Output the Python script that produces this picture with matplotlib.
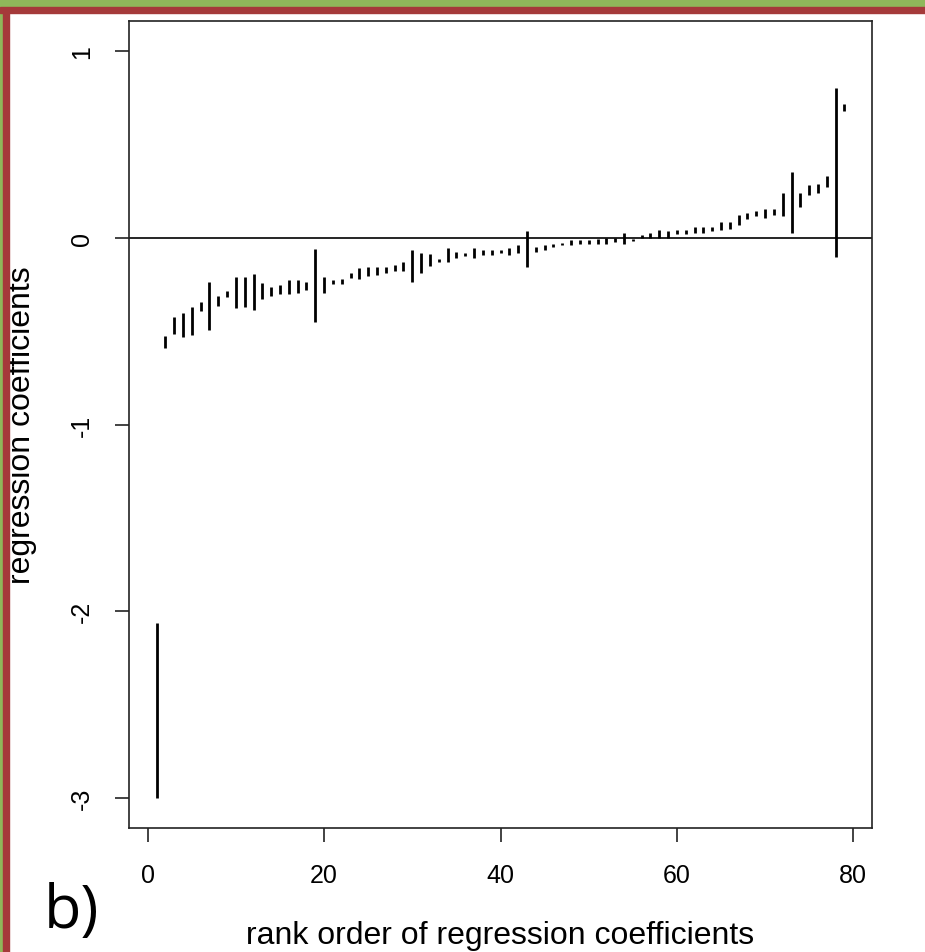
import matplotlib
matplotlib.use("Agg")
import matplotlib.pyplot as plt
from matplotlib.patches import Rectangle

plt.rcParams['font.family'] = ['Liberation Sans', 'DejaVu Sans']

# rank order 1..79, lower and upper ends of each interval
rank = list(range(1, 80))
lower = [-3.00, -0.59, -0.515, -0.533, -0.519, -0.394, -0.492, -0.367, -0.320, -0.378,
         -0.370, -0.385, -0.328, -0.313, -0.304, -0.304, -0.297, -0.279, -0.453, -0.295,
         -0.247, -0.247, -0.215, -0.220, -0.206, -0.199, -0.188, -0.176, -0.176, -0.238,
         -0.188, -0.154, -0.131, -0.131, -0.107, -0.098, -0.107, -0.090, -0.090, -0.082,
         -0.090, -0.082, -0.157, -0.075, -0.068, -0.050, -0.041, -0.041, -0.032, -0.032,
         -0.032, -0.032, -0.023, -0.032, -0.018, -0.002, -0.002, 0.000, 0.000, 0.018,
         0.018, 0.025, 0.027, 0.034, 0.043, 0.048, 0.066, 0.098, 0.117, 0.106,
         0.120, 0.117, 0.025, 0.165, 0.231, 0.240, 0.272, -0.104, 0.680]
upper = [-2.06, -0.525, -0.426, -0.403, -0.369, -0.344, -0.235, -0.313, -0.286, -0.213,
         -0.213, -0.197, -0.245, -0.263, -0.252, -0.229, -0.229, -0.238, -0.059, -0.213,
         -0.226, -0.220, -0.188, -0.163, -0.158, -0.158, -0.158, -0.145, -0.131, -0.064,
         -0.081, -0.086, -0.113, -0.055, -0.077, -0.081, -0.055, -0.064, -0.064, -0.064,
         -0.055, -0.041, 0.035, -0.050, -0.041, -0.032, -0.027, -0.014, -0.014, -0.014,
         -0.005, -0.002, -0.002, 0.027, -0.005, 0.012, 0.027, 0.043, 0.034, 0.043,
         0.043, 0.057, 0.057, 0.059, 0.084, 0.084, 0.120, 0.134, 0.141, 0.156,
         0.156, 0.240, 0.353, 0.240, 0.281, 0.290, 0.329, 0.804, 0.714]

x_ticks = [0, 20, 40, 60, 80]
y_ticks = [-3, -2, -1, 0, 1]

fig = plt.figure(figsize=(9.25, 9.53), dpi=100)
fig.patch.set_facecolor('white')

# picture frame: foliage strip at top, red border
fig.patches.append(Rectangle((0, 1 - 9/953), 1, 9/953, transform=fig.transFigure,
                             color='#8fb85a', zorder=0))
fig.patches.append(Rectangle((0, 1 - 14/953), 1, 6/953, transform=fig.transFigure,
                             color='#a53a3a', zorder=1))
fig.patches.append(Rectangle((0, 0), 3/925, 1, transform=fig.transFigure,
                             color='#8fb85a', zorder=0))
fig.patches.append(Rectangle((3/925, 0), 6/925, 1 - 9/953, transform=fig.transFigure,
                             color='#a53a3a', zorder=1))

ax = fig.add_axes([129/925, 1 - 829/953, (872 - 129)/925, (829 - 22)/953])
ax.vlines(rank, lower, upper, color='black', linewidth=2.0)
ax.axhline(0, color='black', linewidth=1.2)

ax.set_xlim(-2.12, 82.12)
ax.set_ylim(-3.16, 1.16)
ax.set_xticks(x_ticks)
ax.set_yticks(y_ticks)
ax.set_yticklabels([str(v) for v in y_ticks], rotation=90, va='center')
ax.tick_params(axis='both', length=10, width=1.2, labelsize=18, pad=15, color='#222222')
for s in ax.spines.values():
    s.set_linewidth(1.2)
    s.set_color('#222222')

ax.set_xlabel('rank order of regression coefficients', fontsize=23, labelpad=24)
ax.set_ylabel('regression coefficients', fontsize=23, labelpad=24)

fig.text(44/925, 1 - 928/953, 'b)', fontsize=44, family=['Open Sans', 'DejaVu Sans'])

fig.savefig('out.png', dpi=100)
